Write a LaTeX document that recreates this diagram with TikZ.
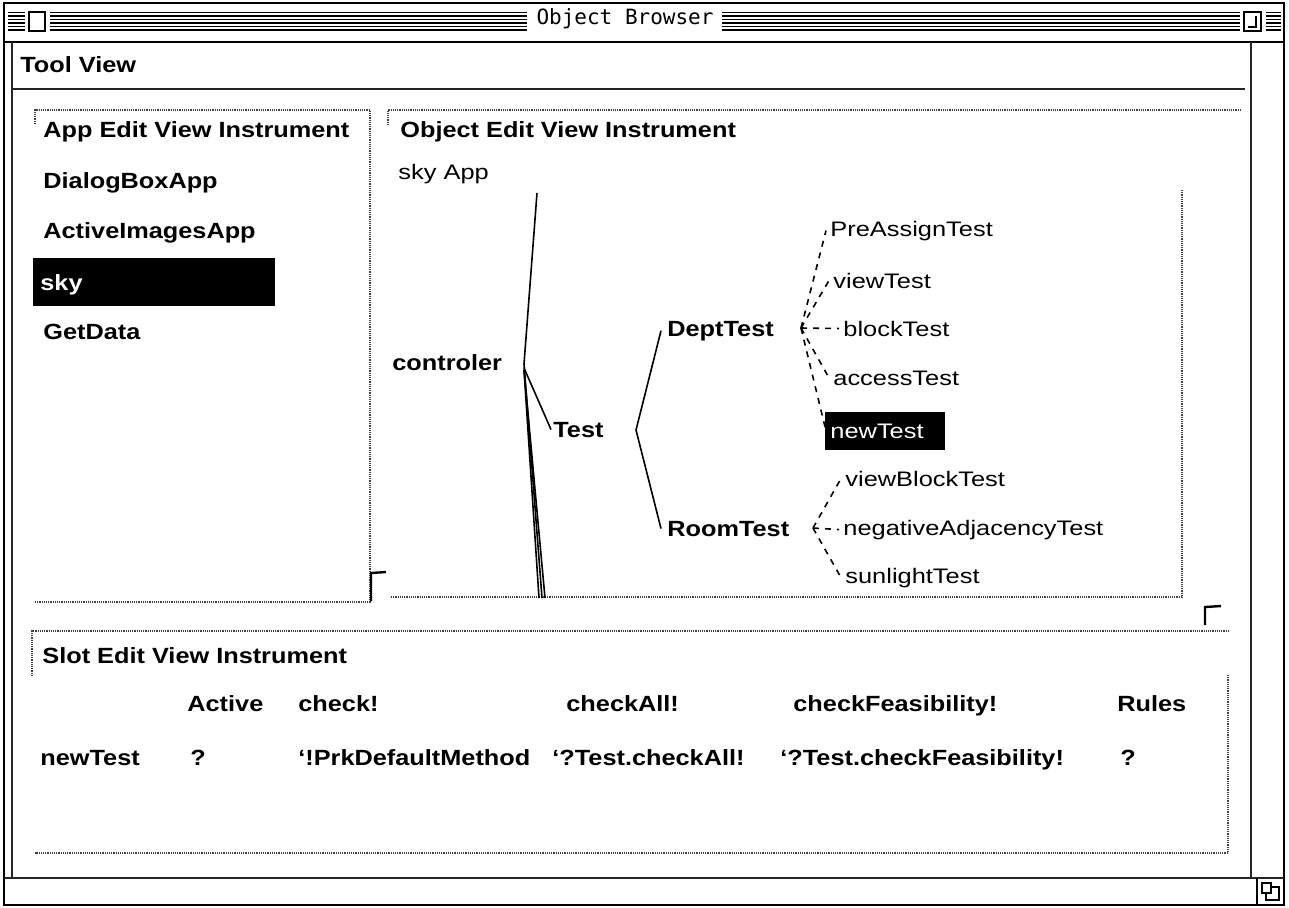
\documentclass[tikz,border=0pt]{standalone}
\usepackage{fontspec}
\setmainfont{Liberation Sans}
\newfontfamily\leaffont[FakeStretch=1.21]{Liberation Sans}
\newfontfamily\menufont[FakeStretch=1.15]{Liberation Sans Bold}
\newfontfamily\titlefont{DejaVu Sans Mono}

\tikzset{
    menu/.style={anchor=base west, inner sep=0pt,
        font=\menufont\fontsize{11}{13}\selectfont},
    leaf/.style={anchor=base west, inner sep=0pt,
        font=\leaffont\fontsize{10.5}{12}\selectfont},
    winline/.style={line width=0.6pt},
    stipple/.style={line width=1.3pt, black!85},
    pane/.style={line width=0.6pt, black!75, dash pattern=on 0.6pt off 0.5pt},
    treeline/.style={line width=0.8pt},
    dashline/.style={line width=0.8pt, dash pattern=on 3pt off 3pt},
    grip/.style={line width=1.2pt},
}

\begin{document}
\begin{tikzpicture}[x=0.5pt, y=-0.5pt]
    \useasboundingbox (0,0) rectangle (1289,907);

    % window frame, title bar
    \draw[winline] (4,3) rectangle (1284,905);
    \draw[winline] (4,42) -- (1284,42);
    \foreach \y in {12.5,16,19.5,23,26.5,30} {
        \draw[line width=0.6pt] (8,\y) -- (25,\y);
        \draw[line width=0.6pt] (50,\y) -- (527,\y);
        \draw[line width=0.6pt] (722,\y) -- (1240,\y);
        \draw[line width=0.6pt] (1266,\y) -- (1281,\y);
    }
    \draw[line width=1pt, fill=white] (29,12) rectangle (45,31);
    \draw[line width=1pt, fill=white] (1244,12) rectangle (1261,31);
    \draw[line width=1pt] (1248,27) -- (1256,27) -- (1256,16);
    \node[font=\titlefont\fontsize{10.5}{12}\selectfont, inner sep=0pt]
        (title) at (625,19) {Object Browser};

    % tool view pane
    \draw[stipple] (12,42) -- (12,878);
    \draw[stipple] (1251,42) -- (1251,878);
    \draw[stipple] (4,878) -- (1284,878);
    \draw[stipple] (12,89) -- (1245,89);
    \node[menu] (tool) at (20,72) {Tool View};

    % grow box
    \draw[winline] (1257,878) -- (1257,905);
    \draw[line width=0.8pt] (1262,883) rectangle (1271,893);
    \draw[line width=0.8pt] (1266,893) -- (1266,900) -- (1279,900)
        -- (1279,887) -- (1271,887);

    % panes
    \draw[pane] (35,124) -- (35,110) -- (370,110) -- (370,602) -- (35,602);
    \draw[pane] (388,125) -- (388,110) -- (1240,110);
    \draw[pane] (1182,190) -- (1182,597) -- (390,597);
    \draw[pane] (32,676) -- (32,631) -- (1228,631);
    \draw[pane] (1228,675) -- (1228,853) -- (35,853);
    \draw[grip] (371,601) -- (371,573) -- (386,572);
    \draw[grip] (1205,625) -- (1205,607) -- (1221,606);

    % app list
    \node[menu] (appmenu) at (43,137) {App Edit View Instrument};
    \node[menu] (dialog) at (43,188) {DialogBoxApp};
    \node[menu] (images) at (43,238) {ActiveImagesApp};
    \fill (33,258) rectangle (275,306);
    \node[menu, text=white] (sky) at (40,290) {sky};
    \node[menu] (getdata) at (43,339) {GetData};

    % object tree
    \node[menu] (objmenu) at (400,137) {Object Edit View Instrument};
    \node[leaf] (skyapp) at (398,179) {sky App};

    \node[menu] (ctl) at (392,370) {controler};
    \node[menu] (test) at (553,437) {Test};
    \node[menu] (dept) at (667,336) {DeptTest};
    \node[menu] (room) at (667,536) {RoomTest};

    \node[leaf] (pre) at (830,236) {PreAssignTest};
    \node[leaf] (view) at (833,288) {viewTest};
    \node[leaf] (block) at (843,336) {blockTest};
    \node[leaf] (access) at (833,385) {accessTest};
    \fill (825,412) rectangle (945,450);
    \node[leaf, text=white] (newt) at (830,438) {newTest};
    \node[leaf] (viewblock) at (845,486) {viewBlockTest};
    \node[leaf] (negadj) at (843,535) {negativeAdjacencyTest};
    \node[leaf] (sun) at (845,583) {sunlightTest};

    \coordinate (ctlj) at (524,364);
    \coordinate (up) at (537,193);
    \coordinate (down) at (542,598);
    \coordinate (testj) at (636,430);
    \coordinate (deptj) at (801,328);
    \coordinate (roomj) at (813,528);

    \draw[treeline] (ctlj) -- (up);
    \draw[treeline] (ctlj) -- (down);
    \draw[treeline] ([yshift=-3pt]ctlj) -- ([xshift=-1.5pt]down);
    \draw[treeline] ([yshift=-3pt]ctlj) -- ([xshift=1.5pt]down);
    \draw[treeline] ([yshift=-2pt]ctlj) -- ([xshift=-1pt]test.west);
    \draw[treeline] ([xshift=-3pt]dept.west) -- (testj) -- ([xshift=-3pt]room.west);

    \foreach \n in {pre,view,block,access,newt}
        \draw[dashline] (deptj) -- ([xshift=-2pt]\n.west);
    \foreach \n in {viewblock,negadj,sun}
        \draw[dashline] (roomj) -- ([xshift=-2pt]\n.west);

    % slot table
    \node[menu] (slotmenu) at (42,663) {Slot Edit View Instrument};
    \node[menu] (hactive) at (187,711) {Active};
    \node[menu] (hcheck) at (298,711) {check!};
    \node[menu] (hall) at (566,711) {checkAll!};
    \node[menu] (hfeas) at (793,711) {checkFeasibility!};
    \node[menu] (hrules) at (1117,711) {Rules};
    \node[menu] (slot) at (40,765) {newTest};
    \node[menu] (vactive) at (190,765) {?};
    \node[menu] (vcheck) at (298,765) {‘!PrkDefaultMethod};
    \node[menu] (vall) at (552,765) {‘?Test.checkAll!};
    \node[menu] (vfeas) at (780,765) {‘?Test.checkFeasibility!};
    \node[menu] (vrules) at (1120,765) {?};
\end{tikzpicture}
\end{document}
